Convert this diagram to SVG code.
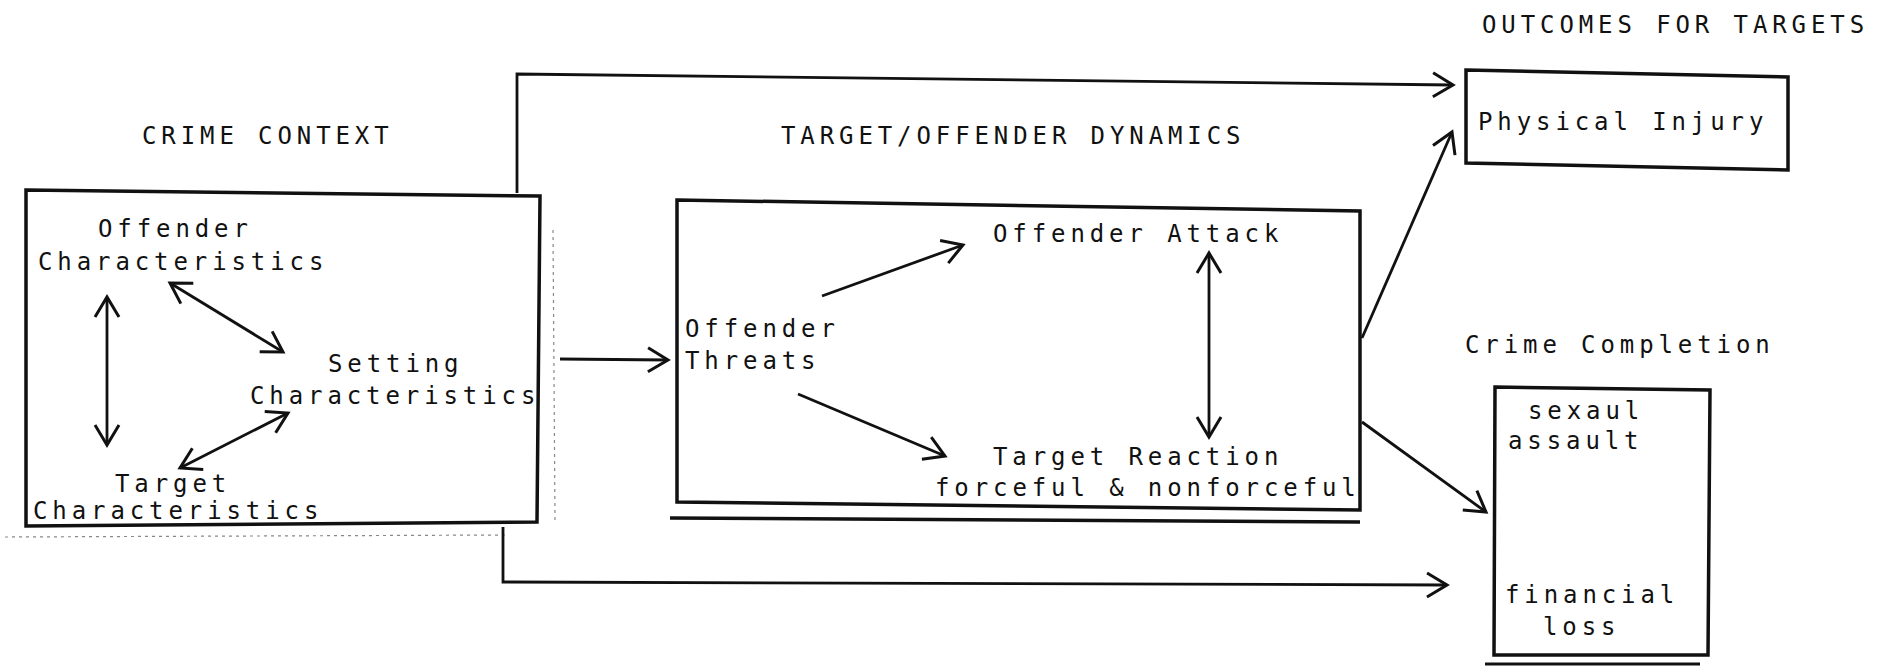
<svg xmlns="http://www.w3.org/2000/svg" width="1885" height="666" viewBox="0 0 1885 666">
<style>
text{font-family:"DejaVu Sans Mono","Liberation Mono",monospace;font-size:24px;letter-spacing:4.9px;fill:#111}
.box{fill:none;stroke:#111;stroke-width:3.5;stroke-linejoin:miter}
.ln{fill:none;stroke:#111;stroke-width:2.8}
.arr{marker-end:url(#ah)}
.dbl{marker-end:url(#ah);marker-start:url(#ahs)}
.faint{fill:none;stroke:#888;stroke-width:1.2;stroke-dasharray:3 4}
</style>
<defs>
<marker id="ah" markerUnits="userSpaceOnUse" markerWidth="40" markerHeight="40" viewBox="-30 -20 40 40" refX="0" refY="0" orient="auto">
<path d="M-20,-12 L0,0 L-20,12" fill="none" stroke="#111" stroke-width="3"/>
</marker>
<marker id="ahs" markerUnits="userSpaceOnUse" markerWidth="40" markerHeight="40" viewBox="-30 -20 40 40" refX="0" refY="0" orient="auto-start-reverse">
<path d="M-20,-12 L0,0 L-20,12" fill="none" stroke="#111" stroke-width="3"/>
</marker>
</defs>
<rect width="1885" height="666" fill="#fff"/>

<g id="headings">
<text x="142" y="144">CRIME CONTEXT</text>
<text x="781" y="144">TARGET/OFFENDER DYNAMICS</text>
<text x="1482" y="33">OUTCOMES FOR TARGETS</text>
<text x="1465" y="353">Crime Completion</text>
</g>

<g id="crime-context">
<polygon class="box" points="26,190 540,196 537,522 26,526"/>
<line class="faint" x1="5" y1="537" x2="505" y2="535"/>
<line class="faint" x1="553" y1="230" x2="555" y2="520"/>
</g>

<g id="offender-characteristics">
<text x="98" y="237">Offender</text>
<text x="38" y="270">Characteristics</text>
</g>
<g id="setting-characteristics">
<text x="328" y="372">Setting</text>
<text x="250" y="404">Characteristics</text>
</g>
<g id="target-characteristics">
<text x="115" y="492">Target</text>
<text x="33" y="519">Characteristics</text>
</g>

<g id="dynamics">
<polygon class="box" points="677,200 1360,211 1360,510 677,502"/>
<line class="box" x1="670" y1="518" x2="1360" y2="522"/>
</g>
<g id="offender-threats">
<text x="685" y="337">Offender</text>
<text x="685" y="369">Threats</text>
</g>
<g id="offender-attack">
<text x="993" y="242">Offender Attack</text>
</g>
<g id="target-reaction">
<text x="993" y="465">Target Reaction</text>
<text x="935" y="496">forceful &amp; nonforceful</text>
</g>

<g id="physical-injury">
<polygon class="box" points="1466,70 1788,77 1788,170 1466,163"/>
<text x="1478" y="130">Physical Injury</text>
</g>

<g id="crime-completion">
<polygon class="box" points="1495,387 1710,390 1708,655 1494,655"/>
<line class="ln" x1="1485" y1="664" x2="1700" y2="664"/>
<text x="1528" y="419">sexaul</text>
<text x="1508" y="449">assault</text>
<text x="1505" y="603">financial</text>
<text x="1543" y="635">loss</text>
</g>

<g id="connectors">
<path class="ln arr" d="M517,193 L517,74 L1453,85"/>
<path class="ln arr" d="M560,359 L668,360"/>
<path class="ln arr" d="M822,296 L963,245"/>
<path class="ln arr" d="M798,394 L945,456"/>
<path class="ln dbl" d="M1209,253 L1209,437"/>
<path class="ln arr" d="M1362,338 L1452,132"/>
<path class="ln arr" d="M1362,422 L1486,512"/>
<path class="ln arr" d="M503,527 L503,582 L1447,585"/>
<path class="ln dbl" d="M107,297 L107,445"/>
<path class="ln dbl" d="M170,283 L283,352"/>
<path class="ln dbl" d="M180,468 L288,413"/>
</g>
</svg>
